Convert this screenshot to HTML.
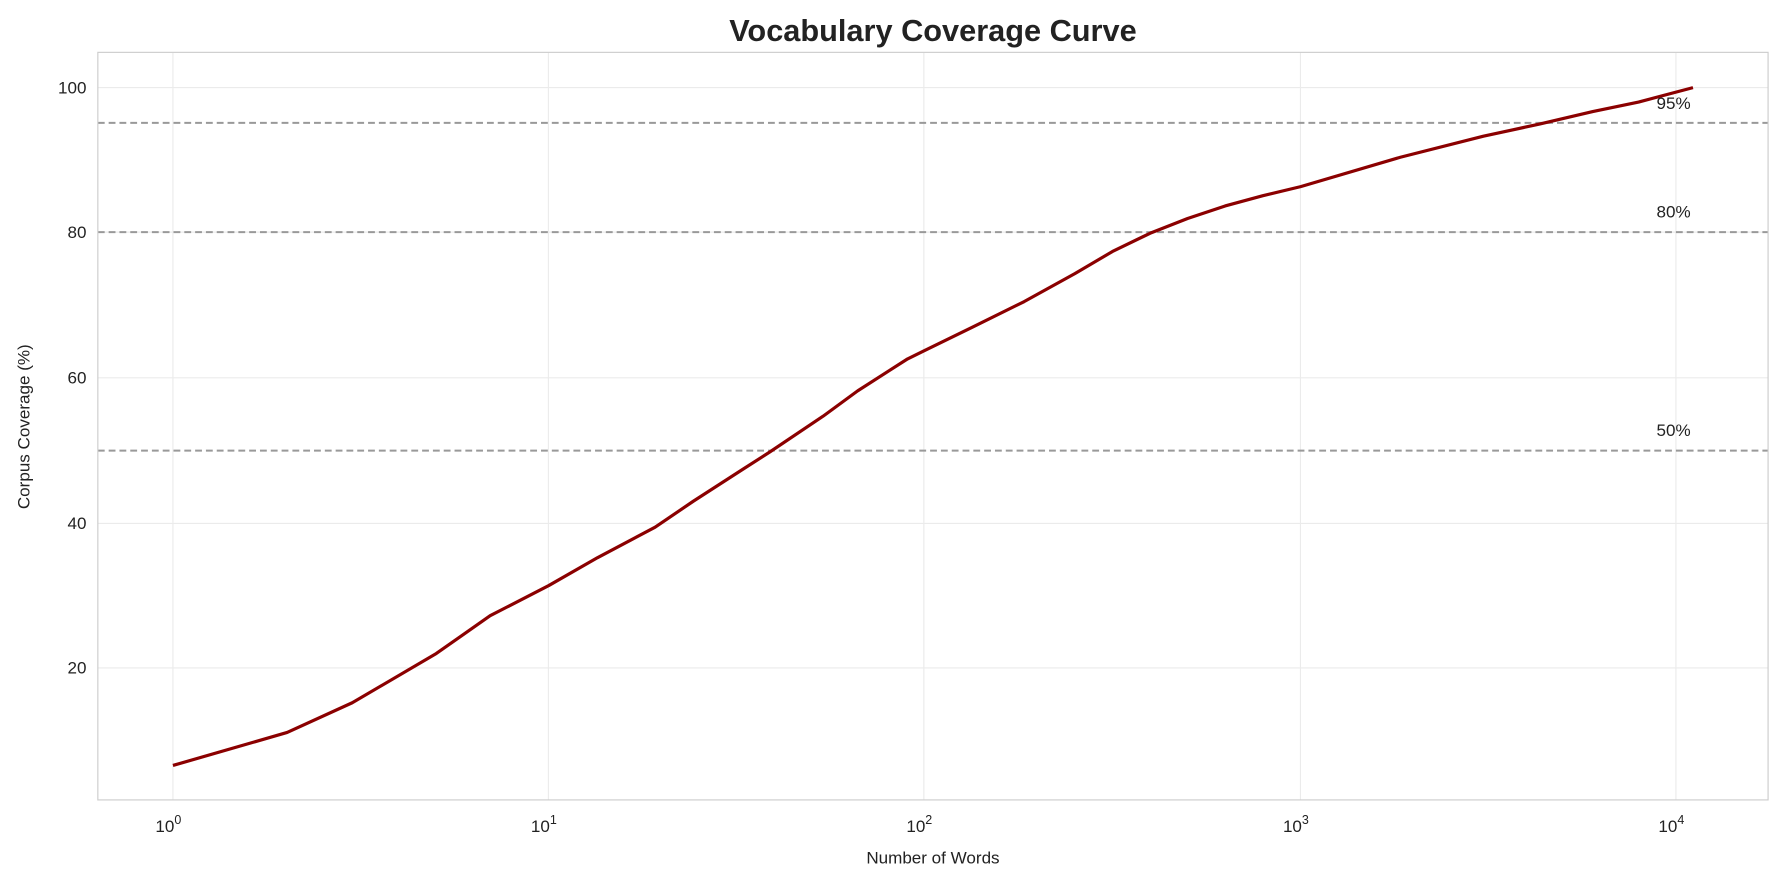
<!DOCTYPE html>
<html><head><meta charset="utf-8"><style>
html,body{margin:0;padding:0;background:#fff;}
svg{display:block;font-family:"Liberation Sans","DejaVu Sans",sans-serif;}
</style></head><body>
<svg width="1784" height="883" viewBox="0 0 1568 776" preserveAspectRatio="none">
<rect width="1568" height="776" fill="#fff"/>
<g stroke="#ebebeb" stroke-width="1">
<line x1="152" y1="46" x2="152" y2="703"/><line x1="482" y1="46" x2="482" y2="703"/>
<line x1="812" y1="46" x2="812" y2="703"/><line x1="1143" y1="46" x2="1143" y2="703"/>
<line x1="1473" y1="46" x2="1473" y2="703"/>
<line x1="86" y1="77" x2="1554" y2="77"/><line x1="86" y1="204" x2="1554" y2="204"/>
<line x1="86" y1="332" x2="1554" y2="332"/><line x1="86" y1="460" x2="1554" y2="460"/>
<line x1="86" y1="587" x2="1554" y2="587"/>
</g>
<g stroke="#999" stroke-width="1.8" stroke-dasharray="6,3.5">
<line x1="86" y1="108" x2="1554" y2="108"/><line x1="86" y1="204" x2="1554" y2="204"/>
<line x1="86" y1="396" x2="1554" y2="396"/>
</g>
<polyline fill="none" stroke="#8b0000" stroke-width="2.8" stroke-linejoin="round" points="152,672.7 252.4,643.7 309.6,617.6 383.5,574.3 430.8,541.1 482.3,514.6 525.2,490.1 575.8,463.3 609.5,440.4 653.1,412.3 676.9,397 723.4,365.8 753.8,343.5 797.7,315.4 812.6,308.1 854.9,287.4 900.1,265.1 944.7,240.5 977.8,221 1010.8,205 1043.8,192 1076.8,181 1110,172 1143.2,164 1230.8,138.2 1303.8,119.7 1353.6,108.9 1399.9,98 1440.2,89.7 1488,77"/>
<rect x="86" y="46" width="1468" height="657" fill="none" stroke="#ccc" stroke-width="1"/>
<g font-size="15" fill="#222">
<text x="1456" y="96">95%</text><text x="1456" y="191">80%</text><text x="1456" y="383">50%</text>
</g>
<g font-size="15" fill="#222" text-anchor="end">
<text x="76" y="82">100</text><text x="76" y="209">80</text><text x="76" y="337">60</text>
<text x="76" y="465">40</text><text x="76" y="592">20</text>
</g>
<g font-size="15" fill="#222" text-anchor="middle">
<text x="148" y="731">10<tspan font-size="11" dy="-7">0</tspan></text>
<text x="478" y="731">10<tspan font-size="11" dy="-7">1</tspan></text>
<text x="808" y="731">10<tspan font-size="11" dy="-7">2</tspan></text>
<text x="1139" y="731">10<tspan font-size="11" dy="-7">3</tspan></text>
<text x="1469" y="731">10<tspan font-size="11" dy="-7">4</tspan></text>
<text x="820" y="759">Number of Words</text>
<text transform="translate(26,375) rotate(-90)">Corpus Coverage (%)</text>
<text x="820" y="36" font-size="27" font-weight="bold">Vocabulary Coverage Curve</text>
</g>
</svg>
</body></html>
